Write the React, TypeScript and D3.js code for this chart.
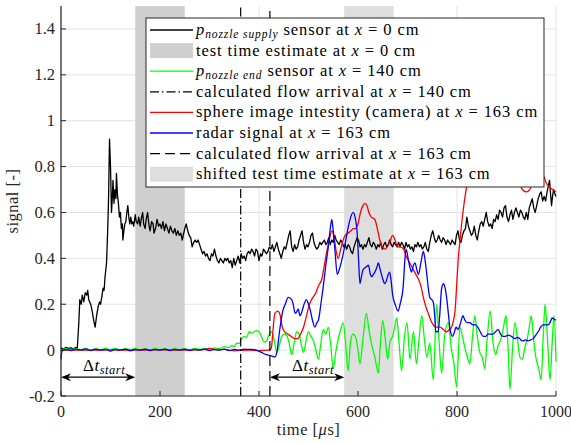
import React from 'react';
import * as d3 from 'd3';

const W = 571, H = 443;
const PL = 61, PR = 556, PT = 6, PB = 396;
const xDomain = [0, 1000];
const yDomain = [-0.2, 1.5];
const xTicks = [0, 200, 400, 600, 800, 1000];
const xTickLabels = ['0', '200', '400', '600', '800', '1000'];
const yTicks = [-0.2, 0, 0.2, 0.4, 0.6, 0.8, 1, 1.2, 1.4];
const yTickLabels = ['-0.2', '0', '0.2', '0.4', '0.6', '0.8', '1', '1.2', '1.4'];
const testBand = [150, 250];
const shiftedBand = [572, 672];
const arrival140 = 363;
const arrival163 = 422;
const dtArrows = [[0, 150], [422, 572]];
const arrowLevel = -0.118;

// p_nozzle_supply (black)
const blackData: [number, number][] = [
  [0,0.01],[5,0.005],[10,0.012],[15,0.008],[20,0.01],[25,0.006],[30,0.012],[33,0.01],[36,0.12],[38,0.22],[41,0.2],[43,0.24],[46,0.21],[49,0.25],[52,0.24],[54,0.26],[56,0.22],[58,0.21],[60,0.2],[63,0.17],[66,0.13],[69,0.1],[72,0.15],[75,0.19],[78,0.21],[80,0.2],[83,0.24],[85,0.27],[87,0.26],[89,0.32],[92,0.38],[94,0.5],[96,0.65],[98,0.92],[100,0.8],[102,0.6],[104,0.68],[105,0.74],[107,0.64],[109,0.7],[111,0.66],[112,0.77],[114,0.68],[116,0.64],[118,0.58],[120,0.6],[122,0.53],[124,0.55],[125,0.48],[127,0.52],[129,0.55],[131,0.56],[133,0.6],[135,0.63],[137,0.58],[139,0.55],[141,0.58],[143,0.55],[145,0.56],[147,0.54],[150,0.59],[152,0.56],[155,0.55],[157,0.58],[160,0.54],[162,0.57],[165,0.6],[167,0.55],[170,0.53],[172,0.57],[175,0.6],[178,0.54],[180,0.52],[183,0.56],[186,0.55],[188,0.51],[191,0.53],[194,0.57],[197,0.54],[200,0.55],[203,0.53],[206,0.56],[209,0.52],[212,0.55],[215,0.53],[218,0.51],[221,0.54],[224,0.52],[227,0.51],[230,0.53],[233,0.5],[236,0.52],[239,0.5],[242,0.51],[245,0.48],[247,0.5],[250,0.53],[253,0.55],[256,0.52],[259,0.5],[262,0.49],[265,0.45],[268,0.47],[271,0.48],[274,0.47],[277,0.48],[280,0.46],[283,0.44],[286,0.42],[289,0.43],[292,0.41],[295,0.42],[298,0.4],[301,0.39],[304,0.42],[307,0.41],[310,0.44],[313,0.41],[316,0.39],[319,0.38],[322,0.4],[325,0.39],[328,0.38],[331,0.4],[334,0.39],[337,0.4],[340,0.38],[343,0.39],[346,0.36],[349,0.4],[352,0.37],[355,0.39],[358,0.41],[361,0.38],[364,0.42],[367,0.4],[370,0.41],[373,0.39],[376,0.42],[379,0.43],[382,0.42],[385,0.44],[388,0.43],[391,0.41],[394,0.44],[397,0.43],[400,0.39],[403,0.42],[406,0.41],[409,0.44],[412,0.43],[415,0.42],[418,0.43],[421,0.45],[424,0.44],[427,0.46],[430,0.43],[433,0.45],[436,0.47],[439,0.44],[442,0.42],[445,0.4],[448,0.43],[451,0.45],[454,0.44],[457,0.47],[460,0.5],[463,0.52],[466,0.45],[469,0.43],[472,0.46],[475,0.44],[478,0.45],[481,0.48],[484,0.5],[487,0.52],[490,0.47],[493,0.44],[496,0.46],[499,0.45],[502,0.47],[505,0.5],[508,0.51],[511,0.47],[514,0.45],[517,0.44],[520,0.45],[523,0.47],[526,0.46],[529,0.47],[532,0.48],[535,0.46],[538,0.47],[541,0.49],[544,0.46],[547,0.48],[550,0.47],[553,0.5],[556,0.48],[559,0.47],[562,0.46],[565,0.48],[568,0.47],[571,0.45],[574,0.46],[577,0.44],[580,0.46],[583,0.45],[586,0.43],[589,0.42],[592,0.45],[595,0.47],[598,0.49],[601,0.48],[604,0.45],[607,0.46],[610,0.44],[613,0.46],[616,0.45],[619,0.47],[622,0.49],[625,0.46],[628,0.45],[631,0.47],[634,0.46],[637,0.44],[640,0.46],[643,0.45],[646,0.47],[649,0.44],[652,0.46],[655,0.47],[658,0.45],[661,0.46],[664,0.48],[667,0.46],[670,0.45],[673,0.47],[676,0.46],[679,0.45],[682,0.47],[685,0.45],[688,0.47],[691,0.46],[694,0.44],[697,0.47],[700,0.45],[703,0.46],[706,0.44],[709,0.45],[712,0.43],[715,0.46],[718,0.45],[721,0.47],[724,0.45],[727,0.46],[730,0.44],[733,0.45],[736,0.47],[739,0.44],[742,0.43],[745,0.47],[748,0.5],[751,0.52],[754,0.49],[757,0.47],[760,0.48],[763,0.5],[766,0.48],[769,0.47],[772,0.49],[775,0.48],[778,0.46],[781,0.48],[784,0.47],[787,0.46],[790,0.48],[793,0.47],[796,0.46],[799,0.5],[802,0.52],[805,0.48],[808,0.47],[811,0.5],[814,0.52],[817,0.53],[820,0.58],[823,0.54],[826,0.52],[829,0.5],[832,0.51],[835,0.54],[838,0.5],[841,0.48],[844,0.52],[847,0.55],[850,0.56],[853,0.54],[856,0.57],[859,0.6],[862,0.56],[865,0.54],[868,0.55],[871,0.53],[874,0.57],[877,0.56],[880,0.59],[883,0.57],[886,0.61],[889,0.6],[892,0.58],[895,0.62],[898,0.63],[901,0.58],[904,0.56],[907,0.59],[910,0.61],[913,0.57],[916,0.6],[919,0.62],[922,0.6],[925,0.58],[928,0.61],[931,0.6],[934,0.58],[937,0.57],[940,0.6],[943,0.57],[946,0.62],[949,0.64],[952,0.66],[955,0.62],[958,0.6],[961,0.63],[964,0.66],[967,0.68],[970,0.69],[973,0.65],[976,0.67],[979,0.65],[982,0.69],[985,0.72],[987,0.74],[989,0.68],[991,0.63],[993,0.67],[995,0.7],[998,0.68],[1000,0.67]
];

// p_nozzle_end (green)
const greenData: [number, number][] = [
  [0,0],[10,0.006],[20,0.001],[30,0.007],[40,0.002],[50,0.008],[60,-0.001],[70,0.006],[80,0.001],[90,0.007],[100,0.002],[110,0.008],[120,0],[130,0.006],[140,0.002],[150,0.007],[160,0.001],[170,0.006],[180,0],[190,0.007],[200,0.002],[210,0.006],[220,0.001],[230,0.007],[240,0.002],[250,0.006],[260,0.001],[270,0.007],[280,0.003],[290,0.008],[300,0.002],[310,0.01],[320,0.006],[330,0.015],[340,0.012],[345,0.02],[350,0.015],[355,0.03],[360,0.028],[365,0.05],[370,0.06],[375,0.055],[380,0.08],[385,0.075],[390,0.08],[395,0.085],[400,0.08],[405,0.06],[410,0.035],[415,0.04],[420,0.065],[425,0.08],[430,0.05],[436,-0.01],[441,0.02],[446,0.06],[451,0.07],[456,0.065],[461,0.03],[466,-0.02],[471,0.03],[476,0.08],[481,0.07],[485,0.03],[490,-0.01],[495,0.04],[500,0.08],[505,0.06],[510,0.04],[515,0],[520,-0.04],[525,0.03],[530,0.09],[535,0.07],[540,0.1],[545,0.02],[550,-0.08],[555,-0.01],[560,0.05],[565,0.09],[570,0.12],[575,0.03],[580,-0.09],[585,0.04],[590,0.07],[596,0.05],[600,0],[604,-0.06],[610,0.05],[617,0.16],[622,0.09],[627,0.03],[634,-0.03],[641,-0.1],[645,0.02],[650,0.13],[655,0.05],[660,-0.04],[665,0.04],[670,0.06],[674,0.1],[678,0.14],[683,0.03],[688,-0.09],[694,0.06],[699,0.12],[705,-0.04],[712,0.08],[718,-0.06],[723,0.04],[729,0.15],[734,0.05],[739,-0.03],[745,0.03],[752,-0.13],[759,0.2],[764,0.03],[769,-0.1],[775,0.06],[782,0.12],[789,0],[794,-0.06],[799,-0.16],[806,0.1],[811,0.06],[816,0.01],[821,-0.03],[826,-0.06],[831,0.05],[836,0.15],[841,0.06],[846,-0.01],[851,-0.03],[856,-0.08],[861,0.05],[867,0.17],[873,0.03],[878,-0.02],[883,0.02],[889,0.05],[894,0.1],[899,0.15],[903,0.02],[907,-0.17],[912,0],[917,0.12],[922,0.05],[927,-0.03],[932,-0.04],[937,0.01],[942,0.05],[946,0.1],[950,0.15],[955,0.04],[960,-0.04],[965,-0.08],[970,-0.13],[974,0.05],[978,0.2],[983,0.04],[988,-0.13],[992,0.02],[996,0.15],[1000,-0.05]
];

// sphere image intensity (red)
const redData: [number, number][] = [
  [0,0],[50,0],[100,0.001],[150,0],[200,0.001],[250,0],[290,0.002],[300,0.008],[310,0.002],[330,0.003],[350,-0.003],[380,0],[400,-0.002],[420,0],[425,0.01],[428,0.08],[432,0.16],[438,0.17],[443,0.15],[447,0.1],[452,0.08],[458,0.07],[465,0.06],[472,0.05],[478,0.05],[484,0.07],[490,0.1],[496,0.15],[502,0.2],[509,0.23],[515,0.25],[520,0.28],[527,0.31],[532,0.37],[537,0.43],[542,0.48],[547,0.52],[551,0.5],[556,0.43],[560,0.4],[565,0.44],[570,0.48],[574,0.5],[580,0.51],[586,0.52],[590,0.53],[595,0.53],[600,0.55],[605,0.6],[610,0.63],[614,0.64],[618,0.63],[622,0.6],[627,0.58],[634,0.57],[639,0.53],[644,0.48],[649,0.45],[654,0.44],[659,0.45],[664,0.47],[670,0.5],[675,0.48],[680,0.45],[686,0.45],[692,0.44],[697,0.41],[702,0.39],[707,0.37],[712,0.35],[717,0.33],[722,0.31],[727,0.28],[732,0.23],[737,0.19],[742,0.16],[747,0.13],[752,0.11],[758,0.1],[766,0.1],[772,0.09],[779,0.08],[785,0.09],[789,0.1],[793,0.13],[796,0.17],[799,0.27],[802,0.38],[807,0.5],[812,0.6],[817,0.68],[822,0.74],[830,0.8],[850,0.86],[880,0.9],[910,0.85],[925,0.74],[932,0.7],[940,0.69],[947,0.7],[955,0.75],[965,0.78],[975,0.76],[980,0.73],[987,0.71],[993,0.7],[1000,0.69]
];

// radar signal (blue)
const blueData: [number, number][] = [
  [0,-0.04],[2,-0.005],[10,0.003],[20,-0.002],[30,0.004],[40,0],[50,0.005],[60,-0.002],[70,0.004],[80,0],[90,0.003],[100,-0.004],[110,0.003],[120,0],[130,0.004],[140,-0.003],[150,0.003],[160,0],[170,0.004],[180,-0.002],[190,0.003],[200,0],[210,0.004],[220,-0.002],[230,0.003],[240,0],[250,0.004],[260,-0.002],[270,0.003],[280,0],[290,0.004],[300,-0.002],[310,0.003],[320,0],[330,0.004],[340,-0.002],[350,0.003],[360,0],[370,0.004],[380,0.003],[385,0.003],[395,0],[405,-0.01],[415,-0.02],[425,-0.025],[432,-0.03],[436,-0.01],[442,0.09],[448,0.17],[453,0.2],[459,0.23],[466,0.22],[470,0.19],[473,0.16],[477,0.17],[479,0.18],[483,0.15],[487,0.17],[491,0.2],[496,0.22],[500,0.2],[503,0.18],[508,0.13],[513,0.1],[517,0.12],[520,0.13],[525,0.2],[530,0.28],[535,0.37],[540,0.45],[544,0.53],[547,0.57],[550,0.52],[554,0.42],[558,0.33],[562,0.35],[567,0.39],[572,0.44],[577,0.5],[584,0.57],[590,0.6],[595,0.57],[598,0.52],[601,0.4],[604,0.29],[607,0.32],[610,0.35],[615,0.36],[621,0.37],[625,0.33],[628,0.32],[631,0.33],[634,0.34],[638,0.36],[641,0.38],[645,0.35],[650,0.31],[654,0.29],[657,0.3],[661,0.33],[664,0.34],[667,0.3],[670,0.24],[675,0.2],[681,0.17],[685,0.2],[691,0.27],[695,0.4],[697,0.44],[702,0.39],[705,0.36],[708,0.34],[712,0.37],[715,0.38],[719,0.35],[722,0.33],[727,0.38],[732,0.43],[735,0.4],[739,0.33],[742,0.27],[745,0.23],[749,0.22],[752,0.21],[755,0.15],[757,0.08],[762,0.08],[765,0.15],[769,0.27],[773,0.29],[776,0.27],[779,0.23],[783,0.15],[786,0.09],[791,0.06],[795,0.08],[798,0.1],[802,0.09],[806,0.11],[810,0.14],[812,0.15],[816,0.13],[821,0.12],[826,0.12],[832,0.11],[838,0.11],[842,0.1],[847,0.08],[853,0.06],[858,0.06],[863,0.07],[868,0.07],[873,0.07],[878,0.08],[883,0.09],[888,0.07],[893,0.06],[898,0.06],[903,0.065],[910,0.06],[917,0.05],[922,0.055],[927,0.05],[931,0.04],[934,0.04],[939,0.045],[944,0.04],[949,0.045],[954,0.05],[959,0.065],[964,0.08],[969,0.1],[974,0.11],[979,0.11],[984,0.11],[988,0.12],[992,0.14],[996,0.135],[1000,0.13]
];

const FONT = 'Liberation Serif';
const AX = '#262626';
const GRID = '#e3e3e3';
const BAND_DARK = '#cfcfcf';
const BAND_LIGHT = '#dedede';

type Entry = { kind: 'line' | 'patch'; color: string; dash?: string; label: React.ReactNode };

const SUB = 11.5;
const legendEntries: Entry[] = [
  { kind: 'line', color: '#000000', label: (<><tspan fontStyle="italic">p</tspan><tspan fontStyle="italic" fontSize={SUB} dy={3}>nozzle supply</tspan><tspan dy={-3}> sensor at </tspan><tspan fontStyle="italic">x</tspan><tspan> = 0 cm</tspan></>) },
  { kind: 'patch', color: BAND_DARK, label: (<><tspan>test time estimate at </tspan><tspan fontStyle="italic">x</tspan><tspan> = 0 cm</tspan></>) },
  { kind: 'line', color: '#00ff00', label: (<><tspan fontStyle="italic">p</tspan><tspan fontStyle="italic" fontSize={SUB} dy={3}>nozzle end</tspan><tspan dy={-3}> sensor at </tspan><tspan fontStyle="italic">x</tspan><tspan> = 140 cm</tspan></>) },
  { kind: 'line', color: '#000000', dash: '9,3,1.5,3', label: (<><tspan>calculated flow arrival at </tspan><tspan fontStyle="italic">x</tspan><tspan> = 140 cm</tspan></>) },
  { kind: 'line', color: '#ff0000', label: (<><tspan>sphere image intestity (camera) at </tspan><tspan fontStyle="italic">x</tspan><tspan> = 163 cm</tspan></>) },
  { kind: 'line', color: '#0000ff', label: (<><tspan>radar signal at </tspan><tspan fontStyle="italic">x</tspan><tspan> = 163 cm</tspan></>) },
  { kind: 'line', color: '#000000', dash: '10,5', label: (<><tspan>calculated flow arrival at </tspan><tspan fontStyle="italic">x</tspan><tspan> = 163 cm</tspan></>) },
  { kind: 'patch', color: BAND_LIGHT, label: (<><tspan>shifted test time estimate at </tspan><tspan fontStyle="italic">x</tspan><tspan> = 163 cm</tspan></>) },
];

export default function App() {
  const x = d3.scaleLinear().domain(xDomain).range([PL, PR]);
  const y = d3.scaleLinear().domain(yDomain).range([PB, PT]);
  const lineLin = d3.line<[number, number]>().x(d => x(d[0])).y(d => y(d[1]));
  const lineSmooth = d3.line<[number, number]>().x(d => x(d[0])).y(d => y(d[1])).curve(d3.curveMonotoneX);

  const lgX = 146, lgY = 18, lgW = 398, lgH = 169;
  const rowH = 20.6, row0 = 30;
  const tf = { fontFamily: FONT };

  const arrowHead = (xTip: number, yy: number, dir: number) => {
    const L = 10, Hh = 4;
    return `M${xTip},${yy} L${xTip - dir * L},${yy - Hh} L${xTip - dir * (L - 3)},${yy} L${xTip - dir * L},${yy + Hh} Z`;
  };

  return (
    <svg width={W} height={H} style={{ position: 'absolute', left: 0, top: 0, background: '#fff' }}>
      <rect x={0} y={0} width={W} height={H} fill="#fff" />
      {xTicks.map(t => (
        <line key={'gx' + t} x1={x(t)} x2={x(t)} y1={PT} y2={PB} stroke={GRID} strokeWidth={1} />
      ))}
      {yTicks.map(t => (
        <line key={'gy' + t} x1={PL} x2={PR} y1={y(t)} y2={y(t)} stroke={GRID} strokeWidth={1} />
      ))}
      <rect x={x(testBand[0])} y={PT} width={x(testBand[1]) - x(testBand[0])} height={PB - PT} fill={BAND_DARK} />
      <rect x={x(shiftedBand[0])} y={PT} width={x(shiftedBand[1]) - x(shiftedBand[0])} height={PB - PT} fill={BAND_LIGHT} />
      <path d={lineLin(blackData) || ''} fill="none" stroke="#000" strokeWidth={1.3} strokeLinejoin="round" />
      <path d={lineSmooth(greenData) || ''} fill="none" stroke="#00ff00" strokeWidth={1.3} />
      <path d={lineSmooth(redData) || ''} fill="none" stroke="#ff0000" strokeWidth={1.3} />
      <path d={lineSmooth(blueData) || ''} fill="none" stroke="#0000ff" strokeWidth={1.3} />
      <line x1={x(arrival140)} x2={x(arrival140)} y1={PB} y2={PT} stroke="#000" strokeWidth={1.2} strokeDasharray="9,3,1.5,3" />
      <line x1={x(arrival163)} x2={x(arrival163)} y1={PB} y2={PT} stroke="#000" strokeWidth={1.2} strokeDasharray="10,5" />
      {dtArrows.map(([a, b], i) => (
        <g key={'dt' + i}>
          <line x1={x(a) + 6} x2={x(b) - 6} y1={y(arrowLevel)} y2={y(arrowLevel)} stroke="#000" strokeWidth={1.2} />
          <path d={arrowHead(x(a), y(arrowLevel), -1)} fill="#000" />
          <path d={arrowHead(x(b), y(arrowLevel), 1)} fill="#000" />
          <text x={(x(a) + x(b)) / 2 + 6} y={y(arrowLevel) - 6} textAnchor="middle" fontSize={17} fill="#000" style={tf} letterSpacing={0.5}>
            <tspan>Δ</tspan><tspan fontStyle="italic">t</tspan><tspan fontStyle="italic" fontSize={12.5} dy={3}>start</tspan>
          </text>
        </g>
      ))}
      <line x1={PL} x2={PR} y1={PB} y2={PB} stroke={AX} strokeWidth={1.2} />
      <line x1={PL} x2={PL} y1={PB} y2={PT} stroke={AX} strokeWidth={1.2} />
      {xTicks.map((t, i) => (
        <g key={'xt' + t}>
          <line x1={x(t)} x2={x(t)} y1={PB} y2={PB - 5} stroke={AX} strokeWidth={1} />
          <text x={x(t)} y={PB + 21} textAnchor="middle" fontSize={16} fill={AX} style={tf}>{xTickLabels[i]}</text>
        </g>
      ))}
      {yTicks.map((t, i) => (
        <g key={'yt' + t}>
          <line x1={PL} x2={PL + 5} y1={y(t)} y2={y(t)} stroke={AX} strokeWidth={1} />
          <text x={PL - 6} y={y(t) + 5.5} textAnchor="end" fontSize={16.5} fill={AX} style={tf}>{yTickLabels[i]}</text>
        </g>
      ))}
      <text x={(PL + PR) / 2} y={435} textAnchor="middle" fontSize={16.5} fill={AX} style={tf} letterSpacing={0.5}>
        <tspan>time [</tspan><tspan fontStyle="italic">μ</tspan><tspan>s]</tspan>
      </text>
      <text transform={`translate(18,${(PT + PB) / 2}) rotate(-90)`} textAnchor="middle" fontSize={16.5} fill={AX} style={tf} letterSpacing={0.5}>signal [-]</text>
      <rect x={lgX} y={lgY} width={lgW} height={lgH} fill="#fff" stroke={AX} strokeWidth={1} />
      {legendEntries.map((e, i) => {
        const cy = row0 + i * rowH;
        return (
          <g key={'lg' + i}>
            {e.kind === 'line' ? (
              <line x1={150} x2={193} y1={cy} y2={cy} stroke={e.color} strokeWidth={1.3} strokeDasharray={e.dash} />
            ) : (
              <rect x={150} y={cy - 7.5} width={43} height={15} fill={e.color} />
            )}
            <text x={196} y={cy + 5} fontSize={16.5} letterSpacing={0.9} fill="#000" style={tf}>{e.label}</text>
          </g>
        );
      })}
    </svg>
  );
}
